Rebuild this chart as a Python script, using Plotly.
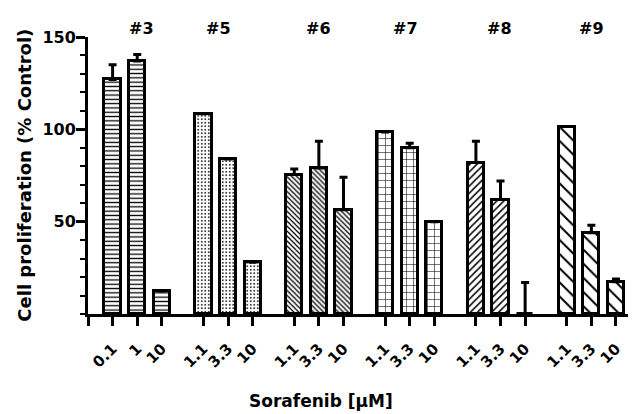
import plotly.graph_objects as go

groups = ["#3", "#5", "#6", "#7", "#8", "#9"]
conc_labels = [["0.1", "1", "10"], ["1.1", "3.3", "10"], ["1.1", "3.3", "10"],
               ["1.1", "3.3", "10"], ["1.1", "3.3", "10"], ["1.1", "3.3", "10"]]
values = [[127, 137, 12.5], [108.5, 84, 28], [75.5, 79, 56.5],
          [98.5, 90, 50], [82, 62, 0], [101.5, 44, 17.5]]
errors = [[8, 3.5, 0], [0, 0, 0], [3, 14.5, 17.5],
          [0, 2.5, 0], [11.5, 10, 17], [0, 4, 1.5]]
patterns = ["-", ".", "\\", "+", "/", "\\"]
pat_size = [4.3, 3.5, 3.5, 7, 5, 10]
pat_solid = [0.3, 0.2, 0.35, 0.15, 0.3, 0.2]

GROUP_PITCH = 3.69
FONT = "DejaVu Sans, Liberation Sans, Arial, sans-serif"

# page is offset by the browser's default 8px body margin
OFF = 8
PAGE_W, PAGE_H = 636, 414
PL, PR, PT, PB = 88.3, 636, 36.7, 314.3   # plot area in page pixels
PW, PH = PR - PL, PB - PT
UNIT = 24.6


def px_x(p):
    return (p - PL) / PW


def px_y(p):
    return (PB - p) / PH


fig = go.Figure()
tickvals = [0]
ticktext = [""]
for g, name in enumerate(groups):
    xs = [1 + g * GROUP_PITCH + j for j in range(3)]
    tickvals += xs
    ticktext += conc_labels[g]
    fig.add_trace(go.Bar(
        x=xs, y=values[g], width=0.66, name=name,
        marker=dict(color="white", line=dict(color="black", width=3),
                    pattern=dict(shape=patterns[g], fgcolor="black", bgcolor="white",
                                 size=pat_size[g], solidity=pat_solid[g], fillmode="replace")),
        error_y=dict(type="data", symmetric=False, array=errors[g],
                     arrayminus=[0, 0, 0], color="black", thickness=3, width=4),
        showlegend=False,
    ))

label_px = [142, 219, 318.5, 406, 500, 592]
for name, lx in zip(groups, label_px):
    fig.add_annotation(x=px_x(lx), y=px_y(28), xref="paper", yref="paper",
                       text="<b>%s</b>" % name, showarrow=False,
                       xanchor="center", yanchor="middle",
                       font=dict(family=FONT, size=16, color="black"))

fig.add_annotation(x=px_x(24), y=px_y(175), xref="paper", yref="paper",
                   text="<b>Cell proliferation (% Control)</b>", textangle=-90,
                   showarrow=False, xanchor="center", yanchor="middle",
                   font=dict(family=FONT, size=18, color="black"))
fig.add_annotation(x=px_x(321), y=px_y(401), xref="paper", yref="paper",
                   text="<b>Sorafenib [µM]</b>", showarrow=False,
                   xanchor="center", yanchor="middle",
                   font=dict(family=FONT, size=17, color="black"))

fig.update_layout(
    width=PAGE_W - OFF, height=PAGE_H - OFF,
    margin=dict(l=PL - OFF, r=0, t=PT - OFF, b=PAGE_H - PB, autoexpand=False),
    plot_bgcolor="white", paper_bgcolor="white",
    bargap=0,
    font=dict(family=FONT, size=15, color="black", weight="bold"),
    xaxis=dict(range=[0, PW / UNIT], showline=True, linecolor="black", linewidth=3,
               tickmode="array", tickvals=tickvals, ticktext=ticktext,
               ticks="outside", ticklen=9, tickwidth=2.5, tickcolor="black",
               tickangle=-45, showgrid=False, zeroline=False, automargin=False,
               tickfont=dict(family=FONT, size=15, color="black", weight="bold"),
               ticklabelstandoff=8),
    yaxis=dict(range=[0, 150], showline=True, linecolor="black", linewidth=3,
               tickmode="array", tickvals=[50, 100, 150], automargin=False,
               ticks="outside", ticklen=9, tickwidth=2.5, tickcolor="black",
               minor=dict(tickmode="linear", tick0=0, dtick=10, ticks="outside",
                          ticklen=5, tickwidth=2, tickcolor="black", showgrid=False),
               showgrid=False, zeroline=False, ticklabelstandoff=-3,
               tickfont=dict(family=FONT, size=16, color="black", weight="bold")),
)

fig.write_html("out.html")
